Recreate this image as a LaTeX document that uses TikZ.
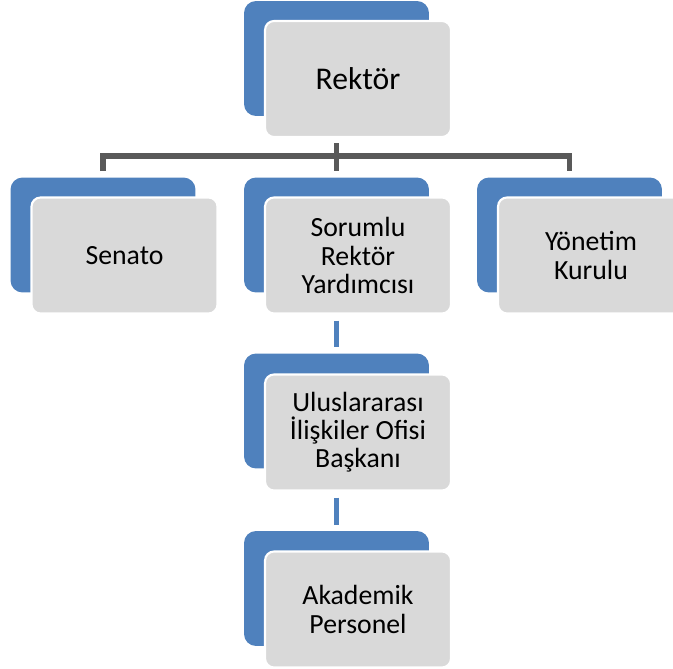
\documentclass[tikz,border=0pt]{standalone}
\usepackage{fontspec}
\setmainfont{Carlito}
\definecolor{kutu}{HTML}{4F81BD}
\definecolor{gri}{HTML}{D9D9D9}
\definecolor{cizgi}{HTML}{595959}

\begin{document}
\begin{tikzpicture}[x=0.02cm,y=-0.02cm,
  arka/.style={fill=kutu, rounded corners=0.24cm, minimum width=3.7cm, minimum height=2.3cm, inner sep=0pt},
  on/.style={fill=gri, draw=white, line width=1.2pt, rounded corners=0.18cm, minimum width=3.72cm, minimum height=2.32cm, inner sep=0pt, align=center, font=\fontsize{15.8}{16}\selectfont},
  bag/.style={draw=cizgi, line width=3.3pt},
  mavi/.style={draw=kutu, line width=2.8pt}]
\useasboundingbox (0,0) rectangle (673,669);
\node[arka] (b1) at (336.5,58.5) {};
\node[on, font=\fontsize{18}{21}\selectfont] (1) at (358,79) {Rektör};
\node[arka] (b2) at (103,235) {};
\node[on] (2) at (124.5,255.5) {Senato};
\node[arka] (b3) at (336.5,235) {};
\node[on] (3) at (358,255.5) {Sorumlu\\Rektör\\Yardımcısı};
\node[arka] (b4) at (569.5,235) {};
\node[on] (4) at (591,255.5) {Yönetim\\Kurulu};
\node[arka] (b5) at (336.5,411) {};
\node[on] (5) at (358,432.5) {Uluslararası\\İlişkiler Ofisi\\Başkanı};
\node[arka] (b6) at (336.5,588.5) {};
\node[on] (6) at (358,609.5) {Akademik\\Personel};
\path[bag,shorten <=0.1cm,shorten >=0.12cm] (b1 |- 1.south) -- (b1 |- b3.north);
\path[bag,shorten <=0.12cm,shorten >=0.12cm] (b2.north) -- ++(0,-21) -| (b4.north);
\path[mavi,shorten <=0.12cm,shorten >=0.12cm] (b5 |- 3.south) -- (b5.north);
\path[mavi,shorten <=0.12cm,shorten >=0.12cm] (b6 |- 5.south) -- (b6.north);
\end{tikzpicture}
\end{document}
